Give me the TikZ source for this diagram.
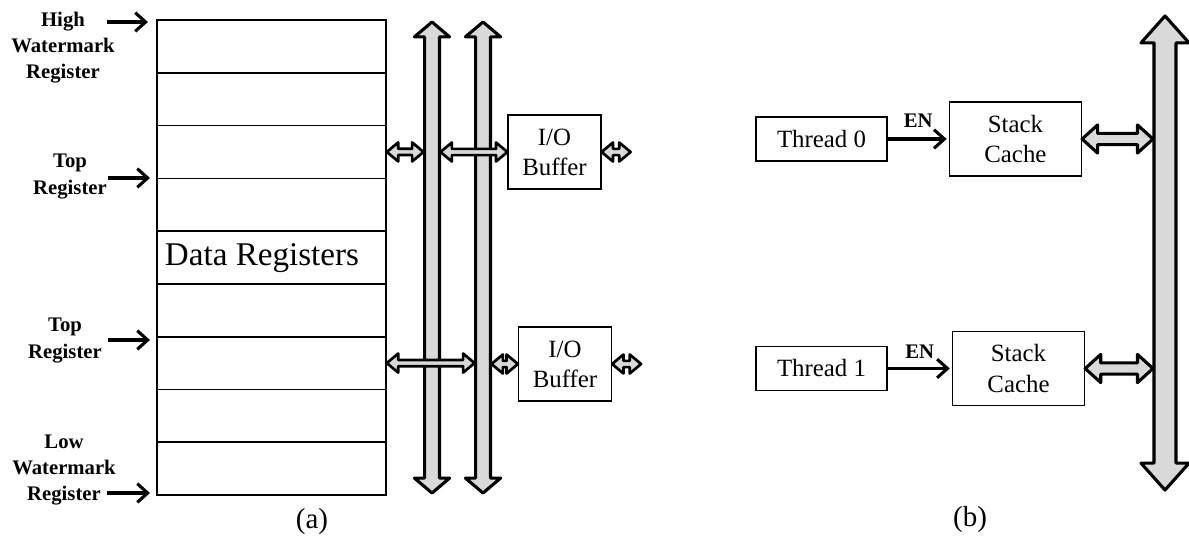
\documentclass[tikz,border=0pt]{standalone}
\usepackage{fontspec}
\setmainfont{Liberation Serif}
\usetikzlibrary{positioning,arrows.meta,calc}
\definecolor{busgray}{HTML}{D9D9D9}

\begin{document}
\begin{tikzpicture}[x=0.483pt, y=-0.483pt,
  row/.style={rectangle, draw, line width=0.8pt, minimum width=110.6pt, minimum height=25.5pt, inner sep=0pt},
  box/.style={rectangle, draw, line width=0.6pt, align=center, inner sep=0pt,
    font=\fontsize{12}{14.5}\selectfont},
  lbl/.style={align=center, font=\bfseries\fontsize{10}{12.6}\selectfont},
  en/.style={font=\bfseries\fontsize{10}{12}\selectfont, inner sep=1pt},
  captxt/.style={font=\fontsize{14}{17}\selectfont},
  bus/.style={rectangle, inner sep=0pt, outer sep=0pt},
  arr/.style={-{Straight Barb[length=5pt,width=9pt]}, line width=1.5pt, shorten >=4pt},
  dblpath/.style n args={3}{to path={
    -- ($(\tikztostart)!#3!(\tikztotarget)!#2!90:(\tikztotarget)$)
    -- ($(\tikztostart)!#3!(\tikztotarget)!#1!90:(\tikztotarget)$)
    -- ($(\tikztotarget)!#3!(\tikztostart)!#1!-90:(\tikztostart)$)
    -- ($(\tikztotarget)!#3!(\tikztostart)!#2!-90:(\tikztostart)$)
    -- (\tikztotarget)
    -- ($(\tikztotarget)!#3!(\tikztostart)!#2!90:(\tikztostart)$)
    -- ($(\tikztotarget)!#3!(\tikztostart)!#1!90:(\tikztostart)$)
    -- ($(\tikztostart)!#3!(\tikztotarget)!#1!-90:(\tikztotarget)$)
    -- ($(\tikztostart)!#3!(\tikztotarget)!#2!-90:(\tikztotarget)$)
    -- cycle}},
  sdbl/.style={fill=busgray, draw=black, line width=1.3pt, line join=round, dblpath={1.5pt}{4.6pt}{5.5pt}},
  mdbl/.style={fill=busgray, draw=black, line width=1.5pt, line join=round, dblpath={2.7pt}{6.8pt}{7.5pt}},
  abus/.style={fill=busgray, draw=black, line width=1.5pt, line join=round, dblpath={3.6pt}{8.5pt}{7.2pt}},
  bbus/.style={fill=busgray, draw=black, line width=1.5pt, line join=round, dblpath={5.3pt}{11.6pt}{13pt}}
]
\useasboundingbox (0,0) rectangle (1189,537);

% (a) register file
\foreach \i in {1,...,9}
  \node[row] (r\i) at (271.5, {20+52.78*(\i-0.5)}) {};
\node[font=\fontsize{16}{19}\selectfont] (dreg) at (262,258) {Data Registers};

\node[lbl] (hwm) at (63,48) {High\\Watermark\\Register};
\node[lbl] (top1) at (70,176.5) {Top\\Register};
\node[lbl] (top2) at (65,340.5) {Top\\Register};
\node[lbl] (lwm) at (64,470) {Low\\Watermark\\Register};
\coordinate (hwmA) at (107,22);
\coordinate (top1A) at (108,178);
\coordinate (top2A) at (108,340);
\coordinate (lwmA) at (107,493);
\draw[arr] (hwmA) -- (hwmA -| r1.west);
\draw[arr, shorten >=3pt] (top1A) -- (top1A -| r4.west);
\draw[arr, shorten >=3pt] (top2A) -- (top2A -| r7.west);
\draw[arr, shorten >=3pt] (lwmA) -- (lwmA -| r9.west);

% (a) buses and buffers
\node[bus, minimum width=8.2pt, minimum height=227.5pt] (bus1) at (432,257.5) {};
\node[bus, minimum width=8.2pt, minimum height=227.5pt] (bus2) at (483,257.5) {};
\draw[abus] (bus1.north) to (bus1.south);
\draw[abus] (bus2.north) to (bus2.south);

\node[box, minimum width=44.9pt, minimum height=35.7pt] (buf1) at (554.5,152) {I/O\\Buffer};
\node[box, minimum width=44.9pt, minimum height=35.7pt] (buf2) at (565,364) {I/O\\Buffer};
\coordinate[right=14pt of buf1.east] (io1out);
\coordinate[right=14pt of buf2.east] (io2out);

\draw[sdbl] (r3.east) to (bus1.west |- r3.east);
\draw[sdbl] (bus1.east |- buf1.west) to (buf1.west);
\draw[sdbl] (buf1.east) to (io1out);
\draw[sdbl] (r7.east) to (bus2.west |- r7.east);
\draw[sdbl] (bus2.east |- buf2.west) to (buf2.west);
\draw[sdbl] (buf2.east) to (io2out);

% (b) threads and stack caches
\node[box, minimum width=63.3pt, minimum height=21.3pt] (th0) at (821.5,139) {Thread 0};
\node[box, minimum width=63.3pt, minimum height=21.3pt] (th1) at (821.5,368.5) {Thread 1};
\node[box, minimum width=63.8pt, minimum height=35.7pt, right=29.5pt of th0] (sc0) {Stack\\Cache};
\node[box, minimum width=63.8pt, minimum height=35.7pt, right=31pt of th1] (sc1) {Stack\\Cache};
\draw[arr, shorten >=1pt] (th0.east) -- node[en, above=4pt] (en0) {EN} (sc0.west);
\draw[arr, shorten >=1pt] (th1.east) -- node[en, above=3pt] (en1) {EN} (sc1.west);

\node[bus, minimum width=11.6pt, minimum height=229pt] (busb) at (1165,253) {};
\draw[bbus] (busb.north) to (busb.south);
\draw[mdbl] (sc0.east) to (busb.west |- sc0.east);
\draw[mdbl] (sc1.east) to (busb.west |- sc1.east);

\node[captxt] (capa) at (312,522) {(a)};
\node[captxt] (capb) at (970,520) {(b)};
\end{tikzpicture}
\end{document}
